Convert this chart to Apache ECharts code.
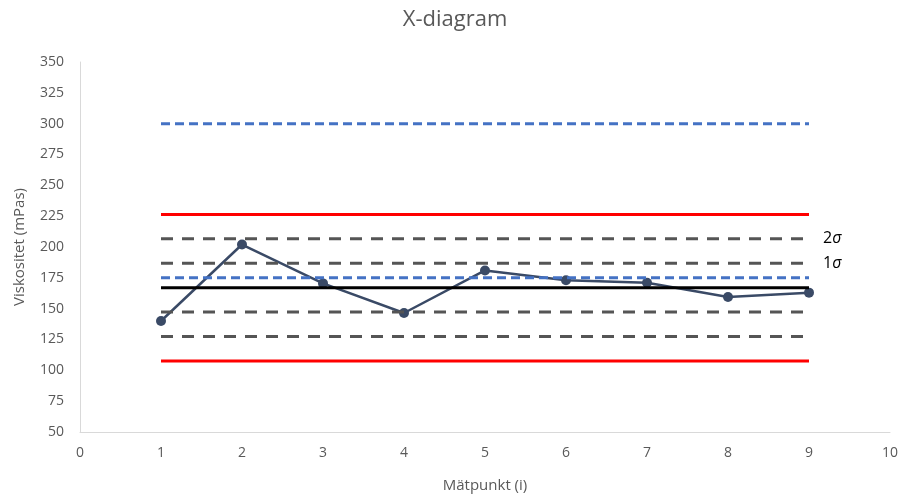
<!DOCTYPE html>
<html><head><meta charset="utf-8">
<script src="https://cdn.jsdelivr.net/npm/echarts@6/dist/echarts.min.js"></script>
<style>html,body{margin:0;padding:0;background:#fff}#c{width:910px;height:495px}</style>
</head><body><div id="c"></div>
<script>
var points = [1, 2, 3, 4, 5, 6, 7, 8, 9];
var viskositet = [140, 202, 170.5, 146.5, 181, 173, 171, 159.5, 163];
var lineStart = 1, lineEnd = 9;
var blueLimits = [300, 175];
var redLimits = [226.4, 107.6];
var sigmaLines = [206.6, 186.8, 147.2, 127.4];
var sigmaLabels = ['2', '1', '', ''];
var meanLine = 167;
var xTicks = [0, 10, 1];
var yTicks = [50, 350, 25];

var FONT = '"Open Sans", "Noto Sans", sans-serif';
var series = [];
series.push({
  type: 'line', data: points.map(function (p, i) { return [p, viskositet[i]]; }),
  symbol: 'circle', symbolSize: 10,
  lineStyle: { color: '#3A4A66', width: 2.5 },
  itemStyle: { color: '#3A4A66' }, z: 2
});
function hline(v, color, type, label) {
  var s = {
    type: 'line', data: [[lineStart, v], [lineEnd, v]], symbol: 'none',
    lineStyle: { color: color, width: 3, type: type }, z: 3, silent: true
  };
  if (label) {
    s.endLabel = {
      show: true, distance: 14,
      formatter: label + '{i|σ}', color: '#000', fontSize: 16, fontFamily: FONT,
      rich: { i: { fontStyle: 'italic', fontSize: 16, color: '#000', fontFamily: FONT } }
    };
  }
  series.push(s);
}
sigmaLines.forEach(function (v, i) { hline(v, '#555555', [12, 9], sigmaLabels[i]); });
redLimits.forEach(function (v) { hline(v, '#FF0000', 'solid'); });
hline(meanLine, '#000000', 'solid');
blueLimits.forEach(function (v) { hline(v, '#4472C4', [9, 5]); });

var chart = echarts.init(document.getElementById('c'));
chart.setOption({
  animation: false,
  title: { text: 'X-diagram', left: 'center', top: 4,
    textStyle: { fontFamily: FONT, fontSize: 22, fontWeight: 'normal', color: '#595959' } },
  grid: { left: 80, right: 20, top: 62, bottom: 63, outerBoundsMode: 'none', containLabel: false },
  xAxis: {
    type: 'value', min: xTicks[0], max: xTicks[1], interval: xTicks[2],
    name: 'Mätpunkt (i)', nameLocation: 'middle', nameGap: 46,
    nameTextStyle: { fontFamily: FONT, fontSize: 15, color: '#595959' },
    axisLine: { show: true, lineStyle: { color: '#D9D9D9', width: 1 } },
    axisTick: { show: false }, splitLine: { show: false },
    axisLabel: { fontFamily: FONT, fontSize: 14, color: '#595959', margin: 14 }
  },
  yAxis: {
    type: 'value', min: yTicks[0], max: yTicks[1], interval: yTicks[2],
    name: 'Viskositet (mPas)', nameLocation: 'middle', nameGap: 53,
    nameTextStyle: { fontFamily: FONT, fontSize: 15, color: '#595959' },
    axisLine: { show: true, lineStyle: { color: '#D9D9D9', width: 1 } },
    axisTick: { show: false }, splitLine: { show: false },
    axisLabel: { fontFamily: FONT, fontSize: 14, color: '#595959', margin: 16 }
  },
  series: series
});
</script></body></html>
